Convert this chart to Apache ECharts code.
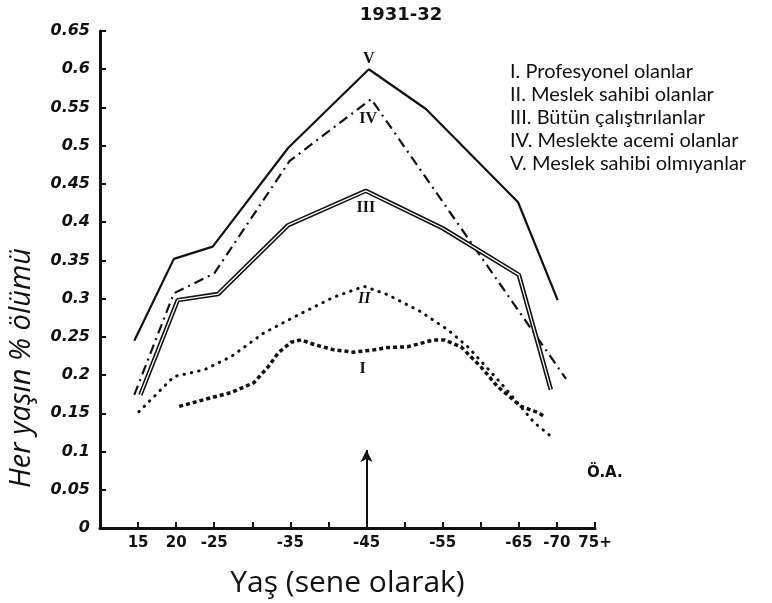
<!DOCTYPE html>
<html>
<head>
<meta charset="utf-8">
<script src="https://cdn.jsdelivr.net/npm/echarts@6/dist/echarts.min.js"></script>
<style>html,body{margin:0;padding:0;background:#fff;}#c{width:772px;height:603px;}</style>
</head>
<body>
<div id="c"></div>
<script>
// ---- data ----
const titleText = "1931-32";
const seriesNames = [
  "I. Profesyonel olanlar",
  "II. Meslek sahibi olanlar",
  "III. Bütün çalıştırılanlar",
  "IV. Meslekte acemi olanlar",
  "V. Meslek sahibi olmıyanlar"
];
const peakLabels = ["I", "II", "III", "IV", "V"];

const xTicks = [15, 20, 25, 30, 35, 40, 45, 50, 55, 60, 65, 70, 75];
const xTickLabels = ["15", "20", "-25", "", "-35", "", "-45", "", "-55", "", "-65", "-70", "75+"];
const yTicks = [0, 0.05, 0.1, 0.15, 0.2, 0.25, 0.3, 0.35, 0.4, 0.45, 0.5, 0.55, 0.6, 0.65];
const yTickLabels = ["0", "0.05", "0.1", "0.15", "0.2", "0.25", "0.3", "0.35", "0.4", "0.45", "0.5", "0.55", "0.6", "0.65"];

// I  (x-marked line)
const agesI = [20.4, 23.7, 27.2, 30.2, 32.1, 33.4, 35.1, 36.4, 38.1, 40.7, 43.3, 46.0, 47.8, 50.4, 53.8, 55.2, 57.4, 60.0, 62.2, 65.3, 67.5, 68.5];
const valsI = [0.159, 0.168, 0.177, 0.190, 0.211, 0.229, 0.243, 0.246, 0.240, 0.233, 0.230, 0.233, 0.236, 0.237, 0.246, 0.246, 0.237, 0.211, 0.185, 0.159, 0.151, 0.145];
// II (dotted line)
const agesII = [15.1, 19.7, 23.7, 27.2, 31.5, 35.5, 40.7, 44.7, 47.8, 52.1, 55.7, 58.3, 62.6, 67.0, 69.2];
const valsII = [0.152, 0.198, 0.207, 0.224, 0.255, 0.276, 0.302, 0.316, 0.305, 0.283, 0.259, 0.237, 0.190, 0.138, 0.120];
// III (double line)
const agesIII = [15.3, 20.2, 25.5, 34.7, 44.9, 55.0, 65.0, 69.2];
const valsIII = [0.174, 0.298, 0.306, 0.396, 0.441, 0.392, 0.331, 0.181];
// IV (dash-dot line)
const agesIV = [14.5, 19.7, 25.0, 34.9, 45.6, 71.2];
const valsIV = [0.174, 0.307, 0.333, 0.480, 0.561, 0.195];
// V (solid line)
const agesV = [14.5, 19.7, 24.8, 34.7, 45.3, 52.8, 64.9, 70.1];
const valsV = [0.245, 0.352, 0.368, 0.497, 0.600, 0.548, 0.426, 0.298];

const arrowFrom = [45, 0.005];
const arrowTo = [45, 0.102];
const noteText = "Ö.A.";
const xName = "Yaş (sene olarak)";
const yName = "Her yaşın % ölümü";

// ---- build ----
function pairs(a, v, labelIdx, labelCfg) {
  return a.map(function (x, i) {
    if (i === labelIdx) return { value: [x, v[i]], label: labelCfg };
    return [x, v[i]];
  });
}
const numFont = "DejaVu Sans";
const romanStyle = { show: true, color: '#111', fontFamily: 'Liberation Serif', fontWeight: 'bold', fontSize: 16 };

const chart = echarts.init(document.getElementById('c'), null, { renderer: 'canvas' });
function lineSeries(name, data, lineStyle, z) {
  return { name: name, type: 'line', symbol: 'circle', symbolSize: 0, showSymbol: true, showAllSymbol: true,
    itemStyle: { color: 'rgba(0,0,0,0)' }, z: z || 3, data: data, lineStyle: lineStyle,
    label: { show: false }, emphasis: { disabled: true } };
}
const sI = lineSeries(seriesNames[0],
  pairs(agesI, valsI, 10, Object.assign({}, romanStyle, { position: 'bottom', distance: 9, offset: [9, 0], formatter: peakLabels[0] })),
  { color: '#111', width: 3.5, type: [4, 3] });
sI.markLine = {
  silent: true, symbol: ['none', 'arrow'], symbolSize: [9, 12],
  label: { show: false },
  lineStyle: { color: '#111', width: 2, type: 'solid' },
  data: [[{ coord: arrowFrom }, { coord: arrowTo }]]
};
const sII = lineSeries(seriesNames[1],
  pairs(agesII, valsII, 7, Object.assign({}, romanStyle, { position: 'bottom', distance: 4, fontStyle: 'italic', formatter: peakLabels[1] })),
  { color: '#111', width: 3, type: [0.5, 7], cap: 'round' });
const sIII = lineSeries(seriesNames[2],
  pairs(agesIII, valsIII, 4, Object.assign({}, romanStyle, { position: 'bottom', distance: 9, formatter: peakLabels[2] })),
  { color: '#111', width: 4.5 });
const sIIIin = lineSeries('III-inner', pairs(agesIII, valsIII, -1), { color: '#fff', width: 1.3 }, 4);
sIIIin.silent = true;
const sIV = lineSeries(seriesNames[3],
  pairs(agesIV, valsIV, 4, Object.assign({}, romanStyle, { position: 'bottom', distance: 12, offset: [-3, 0], formatter: peakLabels[3] })),
  { color: '#111', width: 2.2, type: [10, 5, 2, 5] });
const sV = lineSeries(seriesNames[4],
  pairs(agesV, valsV, 4, Object.assign({}, romanStyle, { position: 'top', distance: 2, formatter: peakLabels[4] })),
  { color: '#111', width: 2.2 });

const option = {
  animation: false,
  backgroundColor: '#fff',
  title: {
    text: titleText, left: 396, top: 1, textAlign: 'center',
    textStyle: { fontFamily: numFont, fontWeight: 'bold', fontSize: 18, color: '#111' }
  },
  legend: {
    data: seriesNames, orient: 'vertical', left: 500, top: 57,
    itemWidth: 0, itemHeight: 0, itemGap: 3, icon: 'none',
    textStyle: { fontFamily: 'Lato', fontSize: 20, color: '#111' },
    selectedMode: false
  },
  grid: { left: 100, right: 177, top: 31, bottom: 74, containLabel: false },
  xAxis: {
    type: 'value', min: 10, max: 75, interval: 5,
    name: xName, nameLocation: 'middle', nameGap: 40,
    nameTextStyle: { fontFamily: 'Open Sans', fontSize: 30, color: '#111' },
    axisLine: { lineStyle: { color: '#111', width: 3 } },
    axisTick: { inside: true, length: 6, lineStyle: { color: '#111', width: 2 } },
    axisLabel: {
      margin: 8, color: '#111', fontFamily: numFont, fontWeight: 'bold', fontSize: 15,
      formatter: function (v) { const i = xTicks.indexOf(Math.round(v)); return i >= 0 ? xTickLabels[i] : ''; }
    },
    splitLine: { show: false }
  },
  yAxis: {
    type: 'value', min: 0, max: 0.65, interval: 0.05,
    axisLine: { show: true, lineStyle: { color: '#111', width: 3 } },
    axisTick: { show: true, inside: true, length: 6, lineStyle: { color: '#111', width: 2 } },
    axisLabel: {
      margin: 10, color: '#111', fontFamily: numFont, fontWeight: 'bold', fontStyle: 'italic', fontSize: 16,
      formatter: function (v) { const i = Math.round(v * 20); return yTickLabels[i] !== undefined ? yTickLabels[i] : ''; }
    },
    splitLine: { show: false }
  },
  graphic: [
    { type: 'text', x: 7, y: 488, rotation: Math.PI / 2,
      style: { text: yName, fontFamily: 'Open Sans', fontStyle: 'italic', fontSize: 29, fill: '#111' } },
    { type: 'text', x: 587, y: 466,
      style: { text: noteText, fontFamily: numFont, fontWeight: 'bold', fontSize: 15, fill: '#111' } }
  ],
  series: [sI, sII, sIII, sIIIin, sIV, sV]
};
chart.setOption(option);
</script>
</body>
</html>
